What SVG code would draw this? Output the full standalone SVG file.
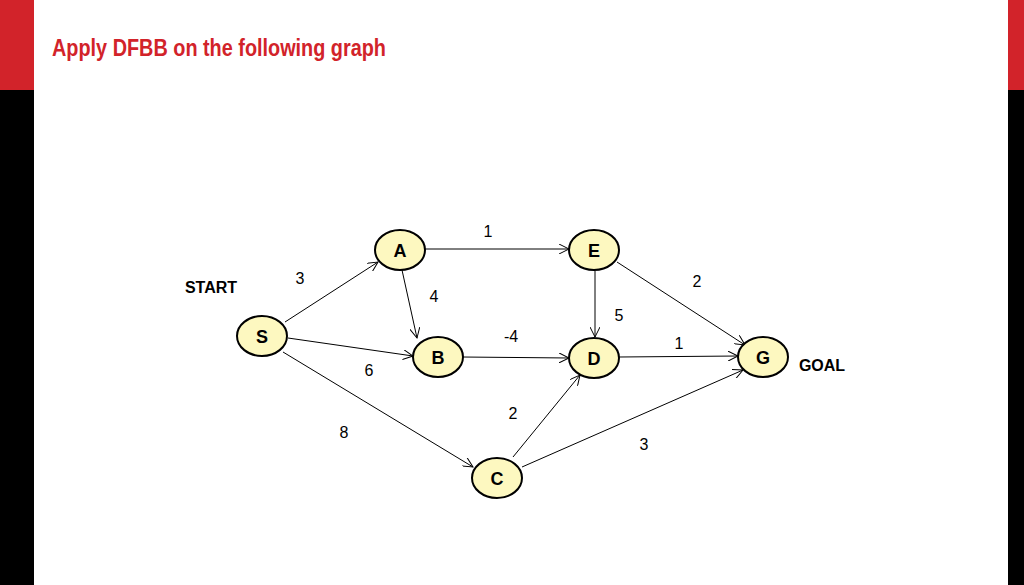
<svg xmlns="http://www.w3.org/2000/svg" width="1024" height="585" viewBox="0 0 1024 585">
<style>
.n ellipse{fill:#fdf8c0;stroke:#000;stroke-width:2}
.n text{font-family:"Liberation Sans",Arial,sans-serif;font-weight:bold;font-size:18px;text-anchor:middle}
.e line{stroke:#000;stroke-width:1;marker-end:url(#ar)}
.l{font-family:"Liberation Sans",Arial,sans-serif;font-size:16px;text-anchor:middle}
.b{font-family:"Liberation Sans",Arial,sans-serif;font-weight:bold;font-size:16px;text-anchor:middle}
</style>
<defs><marker id="ar" markerWidth="12" markerHeight="10" refX="10" refY="5" orient="auto" markerUnits="userSpaceOnUse"><path d="M0,0 L10,5 L0,10" fill="none" stroke="#000" stroke-width="1"/></marker></defs>
<rect width="1024" height="585" fill="#fff"/>
<rect x="0" y="0" width="34" height="90" fill="#d2232a"/>
<rect x="0" y="90" width="34" height="495" fill="#000"/>
<rect x="1008" y="0" width="16" height="90" fill="#d2232a"/>
<rect x="1008" y="90" width="16" height="495" fill="#000"/>
<text x="52" y="56" font-family="'Liberation Sans Narrow','Liberation Sans',sans-serif" font-size="23" font-weight="bold" fill="#d2232a" textLength="334" lengthAdjust="spacingAndGlyphs">Apply DFBB on the following graph</text>
<g class="e" id="edges">
<line x1="285" y1="322" x2="378" y2="262"/>
<line x1="402" y1="270" x2="417" y2="338"/>
<line x1="288" y1="338" x2="413" y2="356"/>
<line x1="283" y1="352" x2="473" y2="467"/>
<line x1="425" y1="249" x2="569" y2="249"/>
<line x1="595" y1="271" x2="595" y2="337"/>
<line x1="617" y1="262" x2="745" y2="345"/>
<line x1="462" y1="357" x2="569" y2="358"/>
<line x1="619" y1="357" x2="738" y2="356"/>
<line x1="513" y1="457" x2="580" y2="375"/>
<line x1="522" y1="467" x2="743" y2="370"/>
</g>
<g id="labels">
<text class="l" x="488" y="237">1</text>
<text class="l" x="300" y="284">3</text>
<text class="l" x="434" y="302">4</text>
<text class="l" x="697" y="287">2</text>
<text class="l" x="619" y="321">5</text>
<text class="l" x="511" y="342">-4</text>
<text class="l" x="679" y="349">1</text>
<text class="l" x="369" y="376">6</text>
<text class="l" x="513" y="419">2</text>
<text class="l" x="344" y="438">8</text>
<text class="l" x="644" y="450">3</text>
<text class="b" x="211" y="293">START</text>
<text class="b" x="822" y="371">GOAL</text>
</g>
<g class="n" id="A"><ellipse cx="400" cy="250" rx="25" ry="20"/><text x="400" y="257">A</text></g>
<g class="n" id="E"><ellipse cx="594" cy="250" rx="25" ry="20"/><text x="594" y="257">E</text></g>
<g class="n" id="S"><ellipse cx="262" cy="336" rx="25" ry="20"/><text x="262" y="343">S</text></g>
<g class="n" id="B"><ellipse cx="438" cy="357" rx="25" ry="20"/><text x="438" y="364">B</text></g>
<g class="n" id="D"><ellipse cx="594" cy="358" rx="25" ry="20"/><text x="594" y="365">D</text></g>
<g class="n" id="G"><ellipse cx="763" cy="357" rx="25" ry="20"/><text x="763" y="364">G</text></g>
<g class="n" id="C"><ellipse cx="497" cy="478" rx="25" ry="20"/><text x="497" y="485">C</text></g>
</svg>
